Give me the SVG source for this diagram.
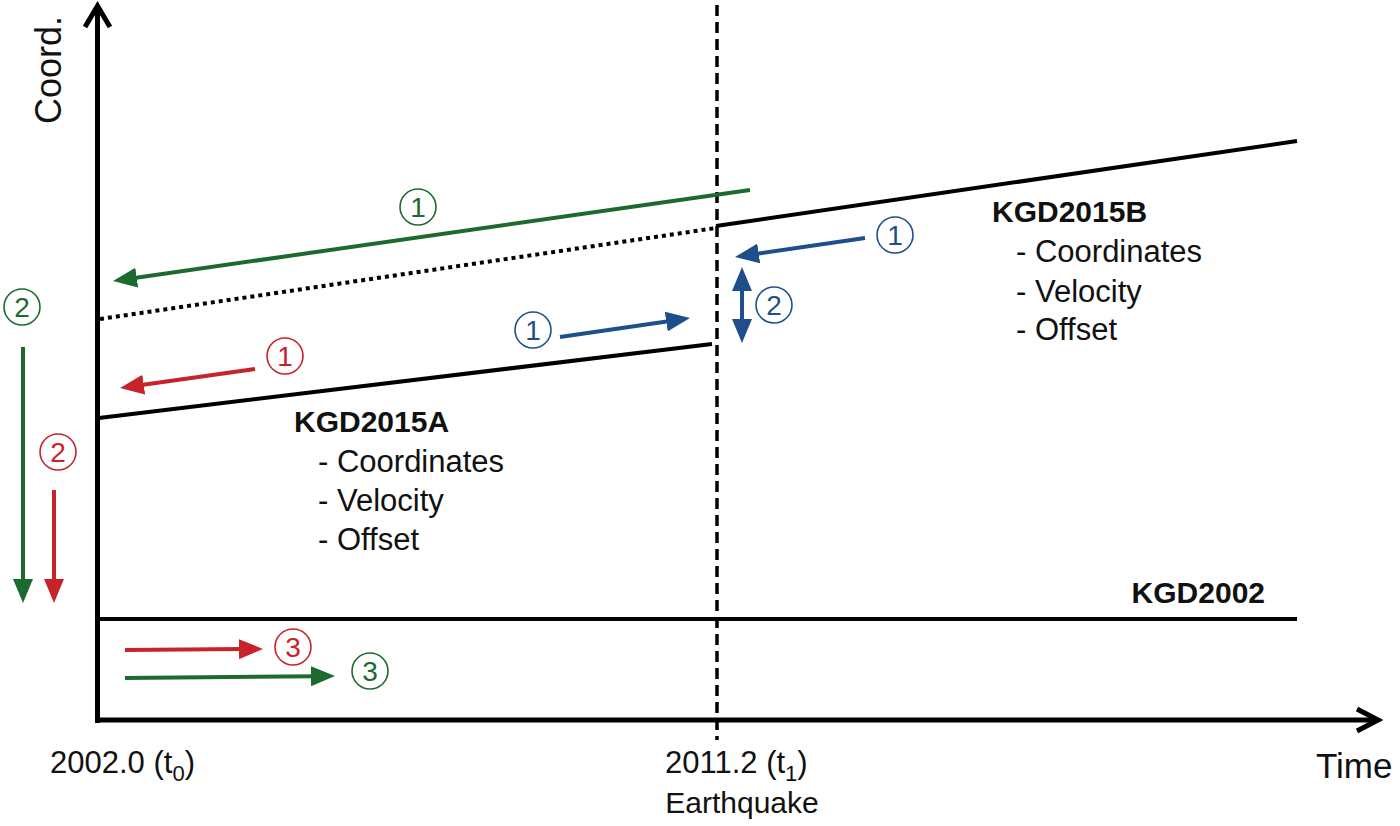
<svg xmlns="http://www.w3.org/2000/svg" width="1400" height="826" viewBox="0 0 1400 826">
<style>
text{font-family:"Liberation Sans",Arial,sans-serif;fill:#111}
.b{font-weight:bold;font-size:30px}
.r{font-size:31px}
.ax{fill:none;stroke:#000;stroke-width:5}
.ln{fill:none;stroke:#000;stroke-width:4}
.g{stroke:#1c6b2e;stroke-width:4;fill:none}
.rd{stroke:#c8232b;stroke-width:4;fill:none}
.bl{stroke:#1f4f8a;stroke-width:4;fill:none}
.cg{fill:none;stroke:#1c6b2e;stroke-width:1.6}
.cr{fill:none;stroke:#c8232b;stroke-width:1.6}
.cb{fill:none;stroke:#1f4f8a;stroke-width:1.6}
.ng{fill:#1c6b2e;font-size:28px;text-anchor:middle}
.nr{fill:#c8232b;font-size:28px;text-anchor:middle}
.nb{fill:#1f4f8a;font-size:28px;text-anchor:middle}
</style>
<defs>
<marker id="mg" markerUnits="userSpaceOnUse" markerWidth="24" markerHeight="20" refX="4" refY="10" orient="auto-start-reverse" viewBox="0 0 24 20"><path d="M0,0 L24,10 L0,20 z" fill="#1c6b2e"/></marker>
<marker id="mr" markerUnits="userSpaceOnUse" markerWidth="24" markerHeight="20" refX="4" refY="10" orient="auto-start-reverse" viewBox="0 0 24 20"><path d="M0,0 L24,10 L0,20 z" fill="#c8232b"/></marker>
<marker id="mb" markerUnits="userSpaceOnUse" markerWidth="24" markerHeight="20" refX="4" refY="10" orient="auto-start-reverse" viewBox="0 0 24 20"><path d="M0,0 L24,10 L0,20 z" fill="#1f4f8a"/></marker>
</defs>

<g id="axes">
<line class="ax" x1="97.5" y1="723" x2="97.5" y2="6"/>
<polyline class="ax" points="85,27 97.5,6 110,27"/>
<line class="ax" x1="95" y1="720" x2="1378" y2="720"/>
<polyline class="ax" points="1357,709 1378,720 1357,731"/>
<text transform="translate(61,70) rotate(-90)" text-anchor="middle" style="font-size:36px">Coord.</text>
<text x="1316" y="778" style="font-size:35px">Time</text>
<text x="50" y="773" style="font-size:31px">2002.0 (t<tspan dy="8" style="font-size:22px">0</tspan><tspan dy="-8">)</tspan></text>
<text x="665" y="773" style="font-size:31px">2011.2 (t<tspan dy="8" style="font-size:22px">1</tspan><tspan dy="-8">)</tspan></text>
<text x="742" y="813" text-anchor="middle" style="font-size:30px">Earthquake</text>
</g>

<g id="earthquake">
<line x1="717" y1="5" x2="717" y2="740" stroke="#000" stroke-width="3.5" stroke-dasharray="11,6"/>
</g>

<g id="kgd2002">
<line class="ln" x1="97" y1="619" x2="1297" y2="619"/>
<text class="b" x="1265" y="603" text-anchor="end">KGD2002</text>
</g>

<g id="kgd2015a">
<line class="ln" x1="99" y1="418" x2="712" y2="344"/>
<line x1="100" y1="319" x2="716" y2="228" stroke="#000" stroke-width="4" stroke-dasharray="4,4"/>
<text class="b" x="294" y="432">KGD2015A</text>
<text class="r" x="318" y="472">- Coordinates</text>
<text class="r" x="318" y="511">- Velocity</text>
<text class="r" x="318" y="550">- Offset</text>
</g>

<g id="kgd2015b">
<line class="ln" x1="716" y1="226" x2="1297" y2="141"/>
<text class="b" x="992" y="222">KGD2015B</text>
<text class="r" x="1016" y="262">- Coordinates</text>
<text class="r" x="1016" y="302">- Velocity</text>
<text class="r" x="1016" y="340">- Offset</text>
</g>

<g id="connectors">
<line class="g" x1="750" y1="190" x2="132.8" y2="278.2" marker-end="url(#mg)"/>
<line class="rd" x1="255" y1="369" x2="139.8" y2="385.2" marker-end="url(#mr)"/>
<line class="bl" x1="560" y1="337" x2="670.2" y2="320.9" marker-end="url(#mb)"/>
<line class="bl" x1="865" y1="238" x2="754.8" y2="254.1" marker-end="url(#mb)"/>
<line class="bl" x1="742" y1="287" x2="742" y2="323" marker-start="url(#mb)" marker-end="url(#mb)"/>
<line class="g" x1="23" y1="347" x2="23" y2="583" marker-end="url(#mg)"/>
<line class="rd" x1="54" y1="490" x2="54" y2="583" marker-end="url(#mr)"/>
<line class="rd" x1="125" y1="650" x2="243" y2="649.1" marker-end="url(#mr)"/>
<line class="g" x1="125" y1="678" x2="315" y2="676.2" marker-end="url(#mg)"/>
</g>

<g id="labels">
<g id="g1"><circle class="cg" cx="418" cy="207" r="18"/><text class="ng" x="418" y="217">1</text></g>
<g id="r1"><circle class="cr" cx="285" cy="356" r="18"/><text class="nr" x="285" y="366">1</text></g>
<g id="b1a"><circle class="cb" cx="533" cy="330" r="18"/><text class="nb" x="533" y="340">1</text></g>
<g id="b1b"><circle class="cb" cx="895" cy="235" r="18"/><text class="nb" x="895" y="245">1</text></g>
<g id="b2"><circle class="cb" cx="774" cy="305" r="18"/><text class="nb" x="774" y="315">2</text></g>
<g id="g2"><circle class="cg" cx="22" cy="307" r="18"/><text class="ng" x="22" y="317">2</text></g>
<g id="r2"><circle class="cr" cx="58" cy="452" r="18"/><text class="nr" x="58" y="462">2</text></g>
<g id="r3"><circle class="cr" cx="293" cy="647" r="18"/><text class="nr" x="293" y="657">3</text></g>
<g id="g3"><circle class="cg" cx="370" cy="671" r="18"/><text class="ng" x="370" y="681">3</text></g>
</g>
</svg>
